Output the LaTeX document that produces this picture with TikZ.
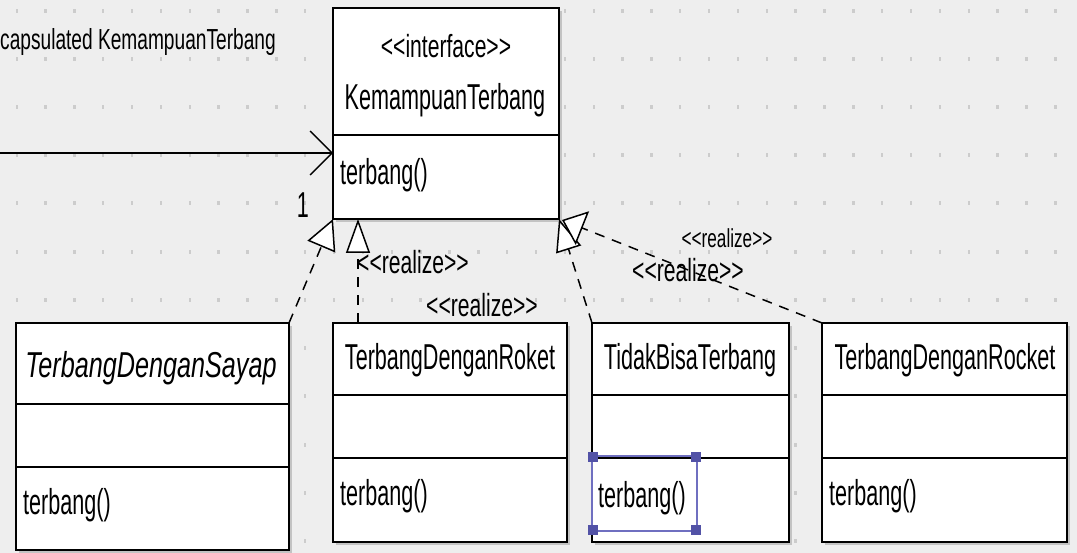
\documentclass[tikz,border=0pt]{standalone}
\usepackage{fontspec}
\usetikzlibrary{arrows.meta,calc,shadows}
\newfontfamily\uifont[FakeStretch=0.6]{Liberation Sans}
\newfontfamily\lblfont[FakeStretch=0.66]{Liberation Sans}
\newfontfamily\sayapfont[FakeStretch=0.7]{Liberation Sans}
\definecolor{canvas}{HTML}{EEEEEE}
\definecolor{griddot}{HTML}{CCCCCC}
\definecolor{selline}{HTML}{6F6FC0}
\definecolor{selhandle}{HTML}{5252A6}
\begin{document}
\begin{tikzpicture}[x=1pt, y=-1pt,
  compart/.style={draw, fill=white, line width=1.6pt, inner sep=0pt, outer sep=0pt, anchor=north west,
    drop shadow={shadow xshift=3pt, shadow yshift=-3pt, fill=black!40}},
  bigtxt/.style={inner sep=0pt, font=\uifont\fontsize{36}{40}\selectfont},
  lbltxt/.style={inner sep=0pt, font=\lblfont\fontsize{32}{36}\selectfont},
  realize/.style={line width=1.5pt, dash pattern=on 10pt off 8pt},
  hollow/.style n args={2}{-{Triangle[length=#1pt, width=#2pt, fill=white, line width=1.5pt]}},
  handle/.style={fill=selhandle, inner sep=0pt, minimum width=10pt, minimum height=10pt}
]
\useasboundingbox (0,0) rectangle (1077,553);
\fill[canvas] (0,0) rectangle (1077,553);

% editor grid
\foreach \i in {0,...,36}
  \foreach \j in {0,...,11}
    \fill[griddot] ({16.7+28.85*\i-1.2},{10.7+48.2*\j-2}) rectangle ++(2.4,4);

% interface
\node[compart, minimum width=226pt, minimum height=127pt] (ifaceT) at (333,8) {};
\node[compart, minimum width=226pt, minimum height=84pt] (ifaceM) at (ifaceT.south west) {};
\node[lbltxt, anchor=base] (ifaceS) at (446,58) {<{}<interface>{}>};
\node[bigtxt, anchor=base] (ifaceN) at (445,110) {KemampuanTerbang};
\node[bigtxt, anchor=base west] (ifaceOp) at (340,185) {terbang()};

% TerbangDenganSayap
\node[compart, minimum width=273pt, minimum height=81pt] (sayapT) at (16,323) {};
\node[compart, minimum width=273pt, minimum height=63pt] (sayapA) at (sayapT.south west) {};
\node[compart, minimum width=273pt, minimum height=83pt] (sayapM) at (sayapA.south west) {};
\node[inner sep=0pt, anchor=base, font=\sayapfont\itshape\fontsize{36}{40}\selectfont] (sayapN) at (151,378) {TerbangDenganSayap};
\node[bigtxt, anchor=base west] (sayapOp) at (23,514) {terbang()};

% TerbangDenganRoket
\node[compart, minimum width=234pt, minimum height=72pt] (roketT) at (333,323) {};
\node[compart, minimum width=234pt, minimum height=63pt] (roketA) at (roketT.south west) {};
\node[compart, minimum width=234pt, minimum height=84pt] (roketM) at (roketA.south west) {};
\node[bigtxt, anchor=base] (roketN) at (450,370) {TerbangDenganRoket};
\node[bigtxt, anchor=base west] (roketOp) at (340,505) {terbang()};

% TidakBisaTerbang
\node[compart, minimum width=197pt, minimum height=72pt] (tidakT) at (592,323) {};
\node[compart, minimum width=197pt, minimum height=63pt] (tidakA) at (tidakT.south west) {};
\node[compart, minimum width=197pt, minimum height=84pt] (tidakM) at (tidakA.south west) {};
\node[bigtxt, anchor=base] (tidakN) at (690,370) {TidakBisaTerbang};
\node[bigtxt, anchor=base west] (tidakOp) at (598,507) {terbang()};

% selected operation
\node[draw=selline, line width=1.3pt, inner sep=0pt, outer sep=0pt, minimum width=105pt, minimum height=75pt, anchor=north west] (sel) at (592,456) {};
\node[handle] (selNW) at ($(sel.north west)+(1,1)$) {};
\node[handle] (selNE) at ($(sel.north east)+(-1,1)$) {};
\node[handle] (selSW) at ($(sel.south west)+(1,-1)$) {};
\node[handle] (selSE) at ($(sel.south east)+(-1,-1)$) {};

% TerbangDenganRocket
\node[compart, minimum width=245pt, minimum height=72pt] (rocketT) at (822,323) {};
\node[compart, minimum width=245pt, minimum height=63pt] (rocketA) at (rocketT.south west) {};
\node[compart, minimum width=245pt, minimum height=84pt] (rocketM) at (rocketA.south west) {};
\node[bigtxt, anchor=base] (rocketN) at (945,370) {TerbangDenganRocket};
\node[bigtxt, anchor=base west] (rocketOp) at (829,505) {terbang()};

% association into the interface
\coordinate (assocStart) at (0,153);
\draw[line width=1.6pt, -{Straight Barb[length=22pt, width=44pt, line width=1.4pt]}]
  (assocStart) -- (assocStart -| ifaceM.west);
\node[inner sep=0pt, anchor=base west, font=\lblfont\fontsize{29}{33}\selectfont] (note) at (0,50) {capsulated KemampuanTerbang};
\node[bigtxt, anchor=base] (mult) at (303,218) {1};

% realizations
\draw[realize, hollow={30}{30}] (sayapT.north east) -- (ifaceM.south west);
\draw[realize, hollow={34}{24}] ($(roketT.north west)+(25,0)$) -- ($(ifaceM.south west)+(25,0)$);
\draw[realize, hollow={32}{26}] (tidakT.north west) -- (ifaceM.south east);
\draw[realize, hollow={22}{36}] (rocketT.north west) -- ($(ifaceM.south east)+(3,1)$);

\node[lbltxt, anchor=base] (lblA) at (413,274) {<{}<realize>{}>};
\node[lbltxt, anchor=base] (lblB) at (482,317) {<{}<realize>{}>};
\node[inner sep=0pt, anchor=base, font=\lblfont\fontsize{26}{30}\selectfont] (lblC) at (727,248) {<{}<realize>{}>};
\node[lbltxt, anchor=base] (lblD) at (688,282) {<{}<realize>{}>};
\end{tikzpicture}
\end{document}
